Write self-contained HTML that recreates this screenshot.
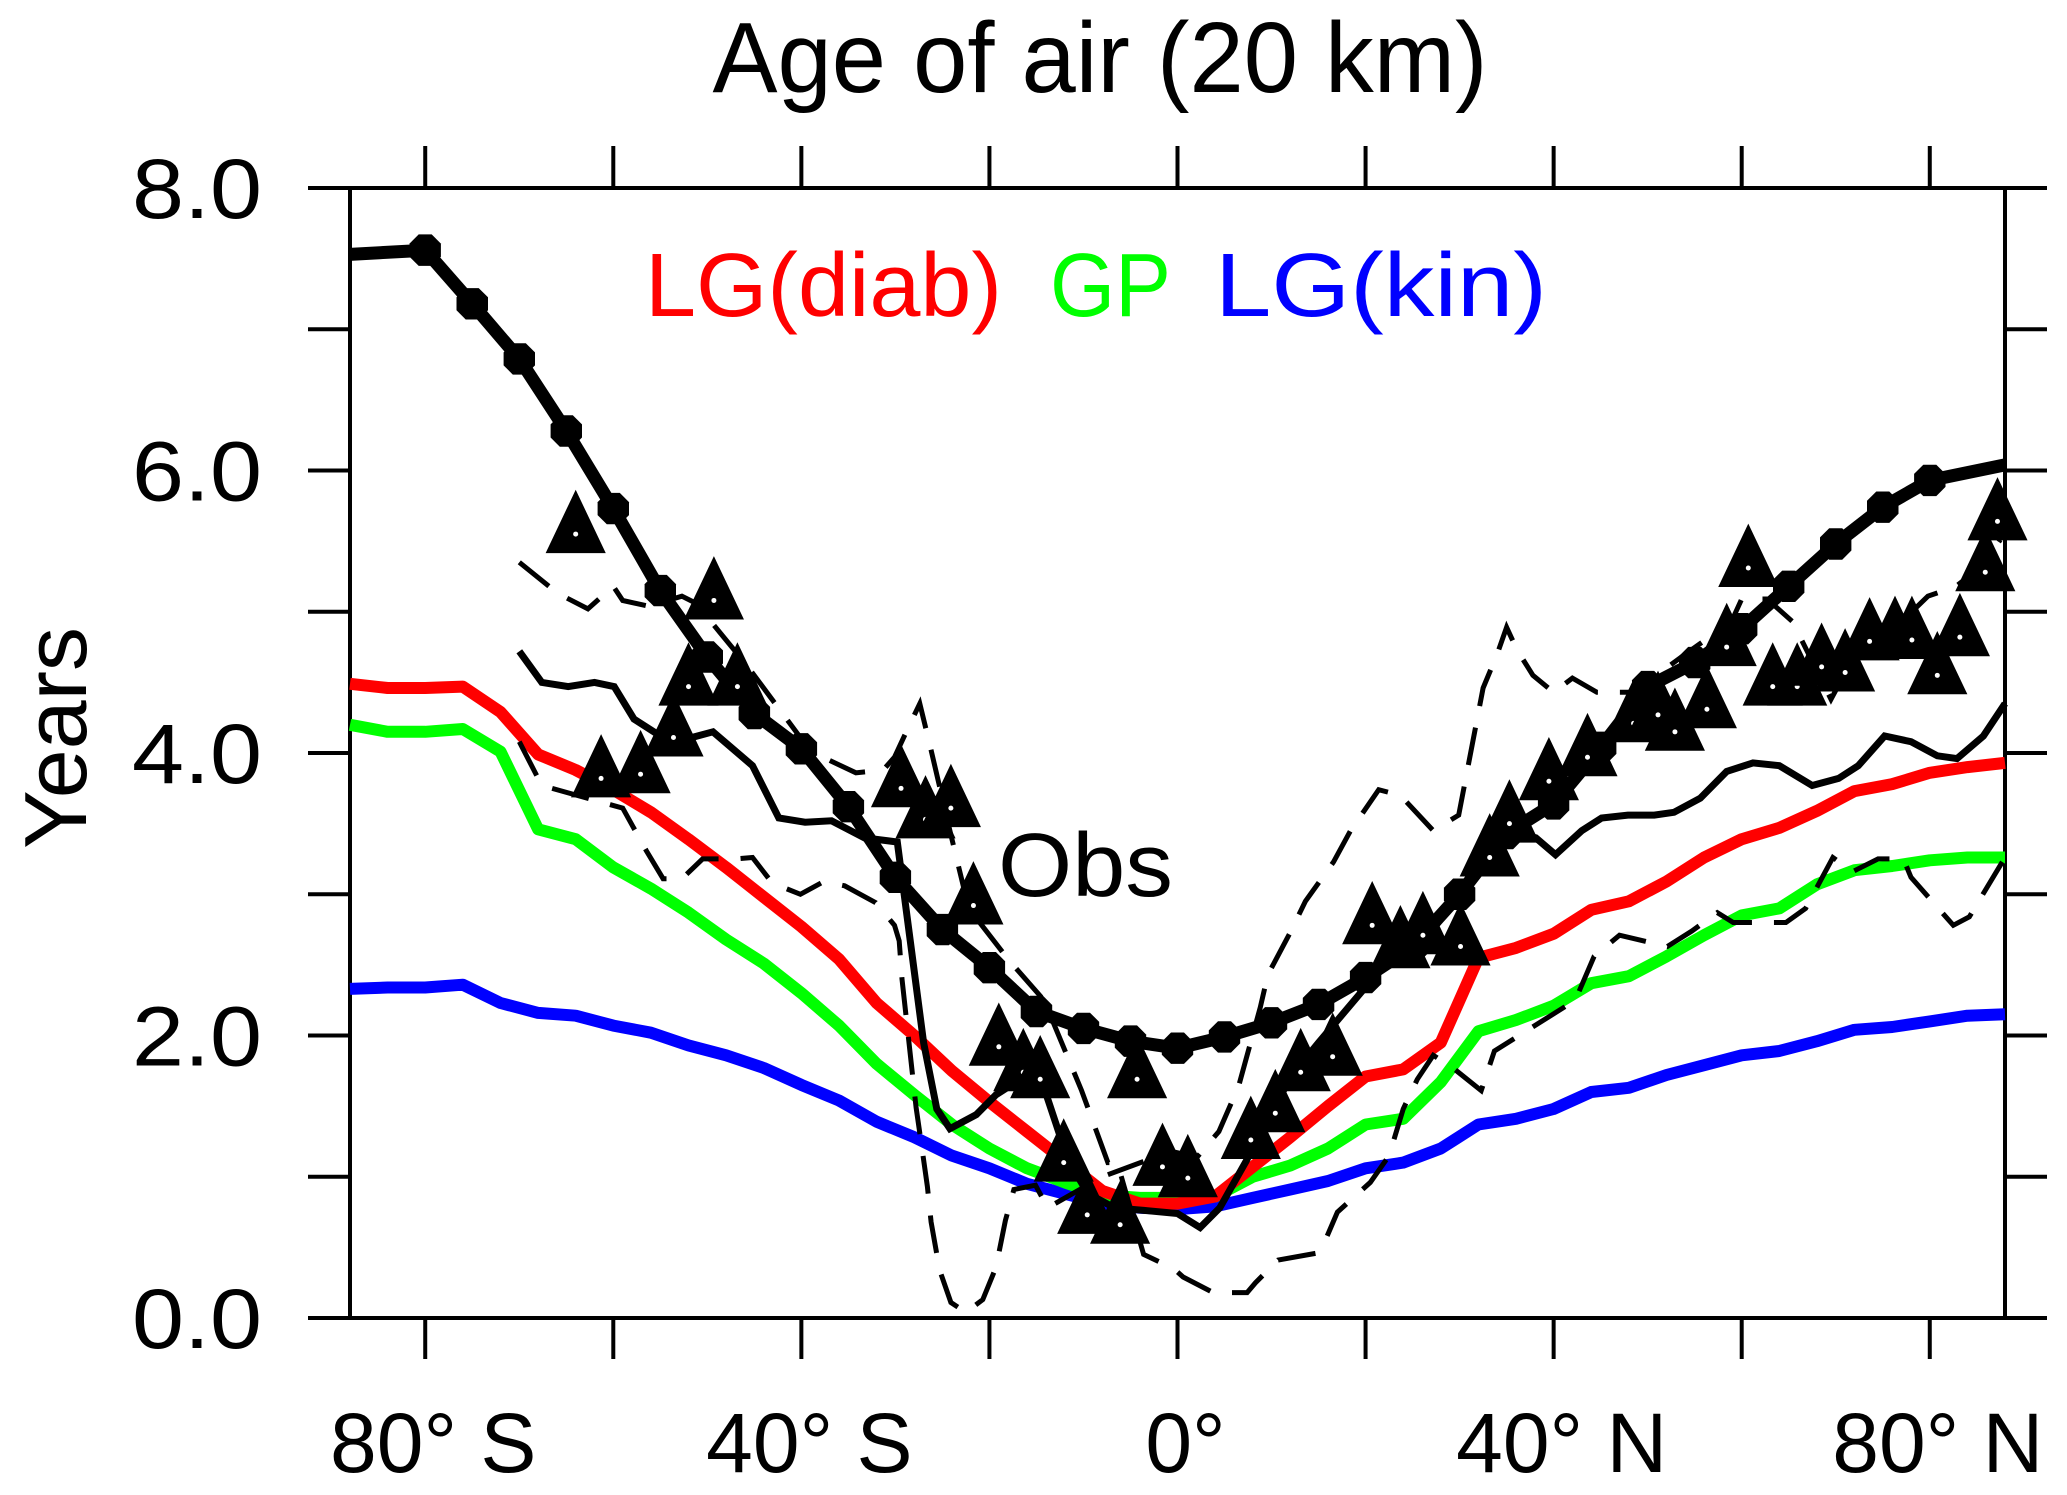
<!DOCTYPE html>
<html><head><meta charset="utf-8"><style>
html,body{margin:0;padding:0;background:#fff;}
svg{display:block;}
text{font-family:"Liberation Sans",sans-serif;}
</style></head><body>
<svg id="chart" xmlns="http://www.w3.org/2000/svg" width="2067" height="1495" viewBox="0 0 2067 1495">
<rect x="0" y="0" width="2067" height="1495" fill="#fff"/>
<text x="1100" y="92" font-size="100" text-anchor="middle" textLength="775" lengthAdjust="spacingAndGlyphs">Age of air (20 km)</text>
<text transform="translate(86,738) rotate(-90)" font-size="88" text-anchor="middle">Years</text>
<g id="axes"></g>
<g id="series"></g>
<text x="645" y="316" font-size="90" fill="#ff0000" textLength="357" lengthAdjust="spacingAndGlyphs">LG(diab)</text>
<text x="1050" y="316" font-size="90" fill="#00ff00" textLength="121" lengthAdjust="spacingAndGlyphs">GP</text>
<text x="1215" y="316" font-size="90" fill="#0000ff" textLength="332" lengthAdjust="spacingAndGlyphs">LG(kin)</text>
<text x="998" y="896" font-size="90" textLength="175" lengthAdjust="spacingAndGlyphs">Obs</text>
</svg>
<script>
// ---- data ----
const yTicksMajor = [0, 2, 4, 6, 8];
const yTickLabels = ["0.0", "2.0", "4.0", "6.0", "8.0"];
const yTicksAll = [0, 1, 2, 3, 4, 5, 6, 7, 8];
const xTicks = [-80, -60, -40, -20, 0, 20, 40, 60, 80];
const xLabelLats = [-80, -40, 0, 40, 80];
const xLabels = ["80° S", "40° S", "0°", "40° N", "80° N"];

const gridLat = [-88,-84,-80,-76,-72,-68,-64,-60,-56,-52,-48,-44,-40,-36,-32,-28,-24,-20,-16,-12,-8,-4,0,4,8,12,16,20,24,28,32,36,40,44,48,52,56,60,64,68,72,76,80,84,88];
const redVals = [4.49,4.46,4.46,4.47,4.29,3.99,3.88,3.74,3.58,3.39,3.19,2.98,2.77,2.54,2.23,2.00,1.75,1.53,1.32,1.11,0.90,0.81,0.81,0.86,1.07,1.28,1.50,1.71,1.76,1.95,2.55,2.62,2.72,2.89,2.95,3.09,3.26,3.39,3.47,3.59,3.73,3.78,3.86,3.90,3.93];
const greenVals = [4.20,4.15,4.15,4.17,4.01,3.46,3.39,3.19,3.04,2.87,2.68,2.51,2.30,2.07,1.80,1.58,1.37,1.20,1.06,0.96,0.87,0.85,0.85,0.86,1.00,1.08,1.20,1.37,1.41,1.67,2.03,2.11,2.21,2.37,2.42,2.56,2.71,2.85,2.90,3.07,3.17,3.20,3.24,3.26,3.26];
const blueVals = [2.33,2.34,2.34,2.36,2.23,2.16,2.14,2.07,2.02,1.93,1.86,1.77,1.65,1.54,1.39,1.28,1.15,1.06,0.95,0.88,0.81,0.78,0.77,0.79,0.85,0.91,0.97,1.06,1.10,1.20,1.37,1.41,1.48,1.60,1.63,1.72,1.79,1.86,1.89,1.96,2.04,2.06,2.10,2.14,2.15];

const thickLat = [-88,-80,-75,-70,-65,-60,-55,-50,-45,-40,-35,-30,-25,-20,-15,-10,-5,0,5,10,15,20,25,30,35,40,45,50,55,60,65,70,75,80,88];
const thickVals = [7.53,7.56,7.18,6.79,6.28,5.73,5.15,4.68,4.28,4.03,3.62,3.12,2.75,2.48,2.17,2.05,1.96,1.91,1.99,2.09,2.22,2.41,2.63,3.00,3.43,3.64,4.04,4.47,4.64,4.88,5.18,5.48,5.74,5.93,6.04];
const thickMarkerLat = [-80,-75,-70,-65,-60,-55,-50,-45,-40,-35,-30,-25,-20,-15,-10,-5,0,5,10,15,20,25,30,35,40,45,50,55,60,65,70,75,80];

const thinLat = [-70.0,-67.6,-64.8,-62.0,-59.9,-57.8,-55.0,-52.2,-49.4,-45.2,-42.4,-39.6,-36.8,-33.3,-29.8,-27.0,-25.6,-24.2,-21.4,-19.3,-16.5,-14.4,-13.0,-11.6,-9.5,-6.7,-3.2,0,2.4,4.5,7.3,9.4,12.2,15.0,19.2,23.4,27.6,31.8,35.3,38.1,40.2,43.0,45.1,47.9,50.7,52.8,55.6,58.4,61.2,64.0,67.5,70.3,72.4,75.2,78.0,80.8,82.9,85.7,88];
const thinVals = [4.72,4.50,4.47,4.50,4.47,4.24,4.12,4.10,4.15,3.91,3.54,3.51,3.52,3.40,3.37,1.95,1.48,1.34,1.44,1.58,1.70,1.67,1.39,1.11,0.88,0.78,0.76,0.74,0.64,0.78,1.11,1.39,1.72,1.95,2.28,2.61,2.79,3.17,3.45,3.40,3.28,3.45,3.54,3.56,3.56,3.58,3.68,3.87,3.93,3.91,3.77,3.82,3.91,4.12,4.08,3.98,3.96,4.12,4.35];

const dashALat = [-70.0,-65.9,-62.7,-60.0,-59.0,-56.3,-52.7,-51.2,-45.8,-39.0,-34.2,-31.3,-30.1,-28.7,-27.4,-26.2,-24.2,-22.2,-17.9,-14.2,-10.2,-7.4,-6.4,-3.6,-0.4,0.6,3.8,7.4,8.3,10.7,14.9,15.4,17.0,20.5,22.5,24.0,25.5,27.2,29.3,32.3,33.7,42.3,44.3,47.0,52.1,54.7,57.4,59.1,62.4,64.7,66.8,69.7,71.8,74.5,77.2,78.0,82.5,84.2,88.0];
const dashAVals = [5.35,5.13,5.02,5.18,5.08,5.04,5.11,5.06,4.62,4.01,3.86,3.88,3.97,4.17,4.35,4.02,3.45,2.90,2.53,2.25,1.61,1.10,1.10,0.45,0.35,0.29,0.18,0.18,0.25,0.41,0.46,0.50,0.75,0.96,1.15,1.48,1.69,1.86,1.77,1.61,1.89,2.25,2.56,2.71,2.63,2.74,2.87,2.80,2.80,2.80,2.90,3.26,3.16,3.25,3.25,3.12,2.78,2.84,3.26];

const dashBLat = [-70.0,-67.6,-59.0,-56.5,-54.7,-52.7,-50.5,-47.0,-45.2,-43.1,-40.1,-37.6,-35.4,-32.1,-30.1,-29.6,-29.3,-27.8,-27.3,-26.6,-26.2,-25.3,-24.1,-22.5,-20.7,-19.3,-18.3,-17.4,-15.1,-13.8,-8.0,-0.7,2.1,4.4,6.5,7.4,8.8,9.6,12.0,13.6,16.6,18.4,21.4,23.7,27.2,29.9,32.5,34.0,35.0,36.1,37.8,40.0,42.0,44.6,48.5,54.0,58.9,60.0,62.7,65.4,69.5,70.7,75.0,79.8,82.8,85.7,87.5];
const dashBVals = [4.08,3.77,3.61,3.31,3.11,3.11,3.25,3.25,3.26,3.08,3.00,3.09,3.06,2.94,2.78,2.67,2.40,1.49,1.26,0.93,0.68,0.34,0.11,0.04,0.13,0.36,0.69,0.91,0.94,0.78,1.00,1.18,1.14,1.32,1.64,1.86,2.20,2.43,2.73,2.95,3.23,3.45,3.74,3.70,3.45,3.56,4.46,4.70,4.89,4.73,4.55,4.43,4.53,4.43,4.43,4.70,4.93,5.09,5.09,4.93,4.38,4.53,4.80,5.11,5.18,5.33,5.51];

const triLat = [-64.0,-49.3,-52.0,-46.8,-53.6,-61.3,-57.1,-29.4,-26.8,-24.1,-21.7,-19.0,-16.4,-14.6,-12.1,-9.6,-6.1,-4.3,-1.6,1.1,7.8,10.4,13.1,16.5,20.7,23.7,26.1,30.1,33.2,35.3,39.5,43.6,48.5,51.1,52.9,56.3,60.7,58.4,63.3,65.9,68.5,71.0,73.6,76.3,78.1,80.8,83.2,85.9,87.2];
const triVals = [5.55,5.08,4.47,4.47,4.11,3.82,3.85,3.75,3.53,3.61,2.92,1.92,1.74,1.69,1.10,0.73,0.66,1.69,1.07,0.99,1.26,1.45,1.74,1.85,2.78,2.61,2.71,2.63,3.26,3.50,3.80,3.97,4.21,4.27,4.15,4.31,5.31,4.75,4.47,4.47,4.61,4.57,4.79,4.80,4.80,4.55,4.82,5.28,5.64];

// ---- axes ----
const X0 = 350, X1 = 2005, Y0 = 1318, Y1 = 188;
const LATMIN = -88, LATMAX = 88, VMIN = 0, VMAX = 8;
function xs(lat){ return X0 + (lat - LATMIN) / (LATMAX - LATMIN) * (X1 - X0); }
function ys(v){ return Y0 - (v - VMIN) / (VMAX - VMIN) * (Y0 - Y1); }
const NS = "http://www.w3.org/2000/svg";
function mk(tag, attrs, parent){
  const e = document.createElementNS(NS, tag);
  for (const k in attrs) e.setAttribute(k, attrs[k]);
  parent.appendChild(e);
  return e;
}
const axes = document.getElementById('axes');
const series = document.getElementById('series');

const frame = mk('rect', {x:X0, y:Y1, width:X1-X0, height:Y0-Y1, fill:'none', stroke:'#000', 'stroke-width':4}, axes);



yTicksAll.forEach(v => {
  const l = mk('line', {x1:308, x2:X0, y1:ys(v), y2:ys(v), stroke:'#000', 'stroke-width':4}, axes);
  
  
  const r = mk('line', {x1:X1, x2:2047, y1:ys(v), y2:ys(v), stroke:'#000', 'stroke-width':4}, axes);
  
  
});
yTicksMajor.forEach((v, i) => {
  const t = mk('text', {x:262, y:ys(v)+30, 'font-size':84, 'text-anchor':'end', textLength:130, lengthAdjust:'spacingAndGlyphs'}, axes);
  t.textContent = yTickLabels[i];
  
  
});
xTicks.forEach(lat => {
  const t = mk('line', {x1:xs(lat), x2:xs(lat), y1:146, y2:Y1, stroke:'#000', 'stroke-width':4}, axes);
  
  
  const b = mk('line', {x1:xs(lat), x2:xs(lat), y1:Y0, y2:1359, stroke:'#000', 'stroke-width':4}, axes);
  
  
});
xLabelLats.forEach((lat, i) => {
  const t = mk('text', {x:xs(lat)+8, y:1472, 'font-size':84, 'text-anchor':'middle'}, axes);
  t.textContent = xLabels[i];
  
  
});

// ---- series ----
function pathD(lats, vals){
  return lats.map((la, i) => (i ? 'L' : 'M') + xs(la).toFixed(1) + ' ' + ys(vals[i]).toFixed(1)).join(' ');
}
const blue = mk('path', {d:pathD(gridLat, blueVals), fill:'none', stroke:'#0000ff', 'stroke-width':12, 'stroke-linejoin':'round'}, series);


const green = mk('path', {d:pathD(gridLat, greenVals), fill:'none', stroke:'#00ff00', 'stroke-width':12, 'stroke-linejoin':'round'}, series);


const red = mk('path', {d:pathD(gridLat, redVals), fill:'none', stroke:'#ff0000', 'stroke-width':12, 'stroke-linejoin':'round'}, series);



const dA = mk('path', {d:pathD(dashALat, dashAVals), fill:'none', stroke:'#000', 'stroke-width':5, 'stroke-dasharray':'38 22'}, series);


const dB = mk('path', {d:pathD(dashBLat, dashBVals), fill:'none', stroke:'#000', 'stroke-width':5, 'stroke-dasharray':'38 22'}, series);



const thin = mk('path', {d:pathD(thinLat, thinVals), fill:'none', stroke:'#000', 'stroke-width':7, 'stroke-linejoin':'miter'}, series);



const thick = mk('path', {d:pathD(thickLat, thickVals), fill:'none', stroke:'#000', 'stroke-width':13, 'stroke-linejoin':'round'}, series);



function interp(lats, vals, la){
  for (let i = 0; i < lats.length - 1; i++){
    if (la >= lats[i] && la <= lats[i+1]){
      const t = (la - lats[i]) / (lats[i+1] - lats[i]);
      return vals[i] + t * (vals[i+1] - vals[i]);
    }
  }
  return vals[vals.length-1];
}
thickMarkerLat.forEach(la => {
  const cx = xs(la), cy = ys(interp(thickLat, thickVals, la)), r = 17;
  let pts = [];
  for (let k = 0; k < 8; k++){ const a = Math.PI/8 + k*Math.PI/4; pts.push((cx + r*Math.cos(a)).toFixed(1) + ',' + (cy + r*Math.sin(a)).toFixed(1)); }
  const m = mk('polygon', {points:pts.join(' '), fill:'#000'}, series);
  
  
});

triLat.forEach((la, i) => {
  const cx = xs(la), cy = ys(triVals[i]);
  const pts = [[cx, cy-28], [cx-19, cy+12], [cx+19, cy+12]].map(p => p[0].toFixed(1) + ',' + p[1].toFixed(1)).join(' ');
  const t = mk('polygon', {points:pts, fill:'#000', stroke:'#000', 'stroke-width':14, 'stroke-linejoin':'miter'}, series);
  
  
  const dot = mk('circle', {cx:cx, cy:cy, r:2.5, fill:'#fff'}, series);
  
  
});
</script>
</body></html>
